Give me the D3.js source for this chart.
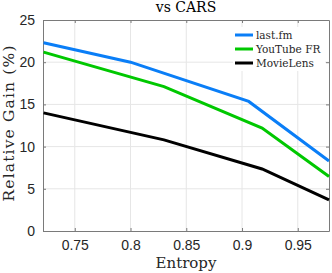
<!DOCTYPE html>
<html>
<head>
<meta charset="utf-8">
<script src="https://cdn.jsdelivr.net/npm/d3@7"></script>
<style>
  body { margin: 0; background: #fff; }
  svg { display: block; }
</style>
</head>
<body>
<div id="chart"></div>
<script>
// data
var seriesNames = ["last.fm", "YouTube FR", "MovieLens"];
var seriesColors = ["#0a7ef7", "#00c800", "#000000"];
var lastfmX = [0.722, 0.8, 0.906, 0.978];
var lastfmY = [22.3, 20.0, 15.35, 8.3];
var youtubeX = [0.722, 0.83, 0.918, 0.978];
var youtubeY = [21.2, 17.1, 12.2, 6.45];
var movielensX = [0.722, 0.83, 0.918, 0.978];
var movielensY = [14.0, 10.8, 7.35, 3.7];
var xTicks = [0.75, 0.8, 0.85, 0.9, 0.95];
var yTicks = [0, 5, 10, 15, 20, 25];

var width = 332, height = 273;
var margin = { left: 43, top: 20, right: 3, bottom: 42 };
var w = width - margin.left - margin.right;
var h = height - margin.top - margin.bottom;

var svg = d3.select("#chart").append("svg")
    .attr("width", width)
    .attr("height", height);

var g = svg.append("g")
    .attr("transform", "translate(" + margin.left + "," + margin.top + ")");

var x = d3.scaleLinear().domain([0.7215, 0.978]).range([0, w]);
var y = d3.scaleLinear().domain([0, 25]).range([h, 0]);

// grid
g.append("g").selectAll("line").data(xTicks).enter().append("line")
    .attr("x1", d => x(d)).attr("x2", d => x(d))
    .attr("y1", 0).attr("y2", h)
    .attr("stroke", "#e6e6e6").attr("stroke-width", 1);
g.append("g").selectAll("line").data(yTicks.slice(1, -1)).enter().append("line")
    .attr("y1", d => y(d)).attr("y2", d => y(d))
    .attr("x1", 0).attr("x2", w)
    .attr("stroke", "#e6e6e6").attr("stroke-width", 1);

// axes (matlab style, ticks inward)
var gx = g.append("g").attr("transform", "translate(0," + h + ")")
    .call(d3.axisBottom(x).tickValues(xTicks).tickSizeInner(-3).tickSizeOuter(0).tickPadding(9)
        .tickFormat(d3.format("")));
var gy = g.append("g")
    .call(d3.axisLeft(y).tickValues(yTicks).tickSizeInner(-3).tickSizeOuter(0).tickPadding(8));
[gx, gy].forEach(a => {
    a.selectAll("text").attr("font-family", "Liberation Sans, Arial, sans-serif")
        .attr("font-size", 14).attr("fill", "#262626");
    a.selectAll("line, path").attr("stroke", "#7a7a7a");
});
// top and right ticks of the box
g.append("g").attr("transform", "translate(0,0)")
    .call(d3.axisTop(x).tickValues(xTicks).tickSizeInner(-3).tickSizeOuter(0).tickFormat(""))
    .selectAll("line, path").attr("stroke", "#7a7a7a");
g.append("g").attr("transform", "translate(" + w + ",0)")
    .call(d3.axisRight(y).tickValues(yTicks).tickSizeInner(-3).tickSizeOuter(0).tickFormat(""))
    .selectAll("line, path").attr("stroke", "#7a7a7a");

// lines
var allX = [lastfmX, youtubeX, movielensX];
var allY = [lastfmY, youtubeY, movielensY];
var line = d3.line().x(d => x(d[0])).y(d => y(d[1]));
allX.forEach(function(xs, i) {
    var pts = xs.map((v, j) => [v, allY[i][j]]);
    g.append("path").datum(pts)
        .attr("d", line)
        .attr("fill", "none")
        .attr("stroke", seriesColors[i])
        .attr("stroke-width", 3)
        .attr("stroke-linejoin", "miter");
});

// legend
var leg = g.append("g").attr("transform", "translate(190,7)");
leg.append("rect").attr("x", 0).attr("y", 0).attr("width", 92).attr("height", 44)
    .attr("fill", "#fff");
seriesNames.forEach(function(name, i) {
    var ly = 8 + i * 14;
    leg.append("line").attr("x1", 2).attr("x2", 20).attr("y1", ly).attr("y2", ly)
        .attr("stroke", seriesColors[i]).attr("stroke-width", 3);
    leg.append("text").attr("x", 23).attr("y", ly + 4)
        .attr("font-family", "DejaVu Serif, serif").attr("font-size", 10.5)
        .attr("fill", "#262626").text(name);
});

// title and labels
svg.append("text").attr("x", margin.left + w / 2).attr("y", 12)
    .attr("text-anchor", "middle")
    .attr("font-family", "DejaVu Serif, serif").attr("font-size", 14)
    .attr("fill", "#000").text("vs CARS");
svg.append("text").attr("x", margin.left + w / 2).attr("y", 268)
    .attr("text-anchor", "middle")
    .attr("font-family", "DejaVu Serif, serif").attr("font-size", 15)
    .attr("fill", "#262626").text("Entropy");
svg.append("text")
    .attr("transform", "translate(14," + (margin.top + h / 2 - 2) + ") rotate(-90)")
    .attr("text-anchor", "middle")
    .attr("font-family", "DejaVu Serif, serif").attr("font-size", 15.5)
    .attr("textLength", 156).attr("lengthAdjust", "spacing")
    .attr("fill", "#262626").text("Relative Gain (%)");
</script>
</body>
</html>
